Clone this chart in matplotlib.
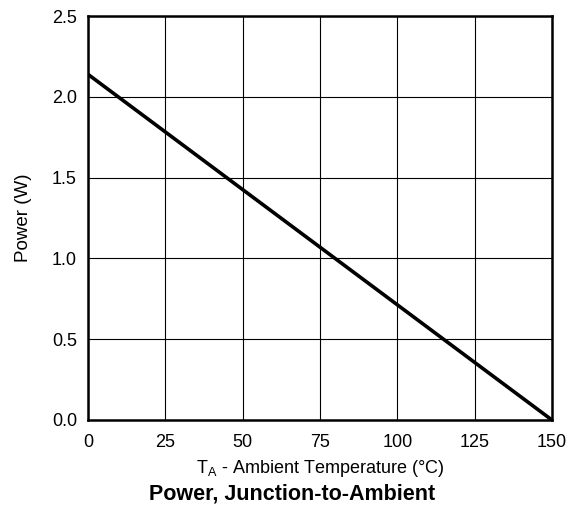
import matplotlib
matplotlib.use("Agg")
import matplotlib.pyplot as plt

temps = [0, 150]
power = [2.14, 0.0]
xticks = [0, 25, 50, 75, 100, 125, 150]
yticks = [0.0, 0.5, 1.0, 1.5, 2.0, 2.5]
ytick_labels = ["0.0", "0.5", "1.0", "1.5", "2.0", "2.5"]

plt.rcParams['font.family'] = ['Liberation Sans', 'DejaVu Sans']

fig = plt.figure(figsize=(5.77, 5.19), dpi=100)
ax = fig.add_axes([0.1525, 0.1908, 0.804, 0.778])
ax.plot(temps, power, color='black', linewidth=2.6, solid_capstyle='butt')
ax.set_xlim(0, 150)
ax.set_ylim(0, 2.5)
ax.set_xticks(xticks)
ax.set_yticks(yticks)
ax.set_yticklabels(ytick_labels)
ax.grid(True, color='black', linewidth=0.8)
ax.tick_params(length=0, labelsize=13)
ax.tick_params(axis='x', pad=10)
ax.tick_params(axis='y', pad=8)
for s in ax.spines.values():
    s.set_linewidth(1.8)
ax.set_xlabel(r"T$_\mathregular{A}$ - Ambient Temperature (°C)", fontsize=13, labelpad=5)
ax.set_ylabel("Power (W)", fontsize=13.5, labelpad=14)
fig.text(0.5065, 0.049, "Power, Junction-to-Ambient", fontsize=15.5, fontweight='bold', ha='center', va='center')
fig.savefig("out.png", dpi=100)
